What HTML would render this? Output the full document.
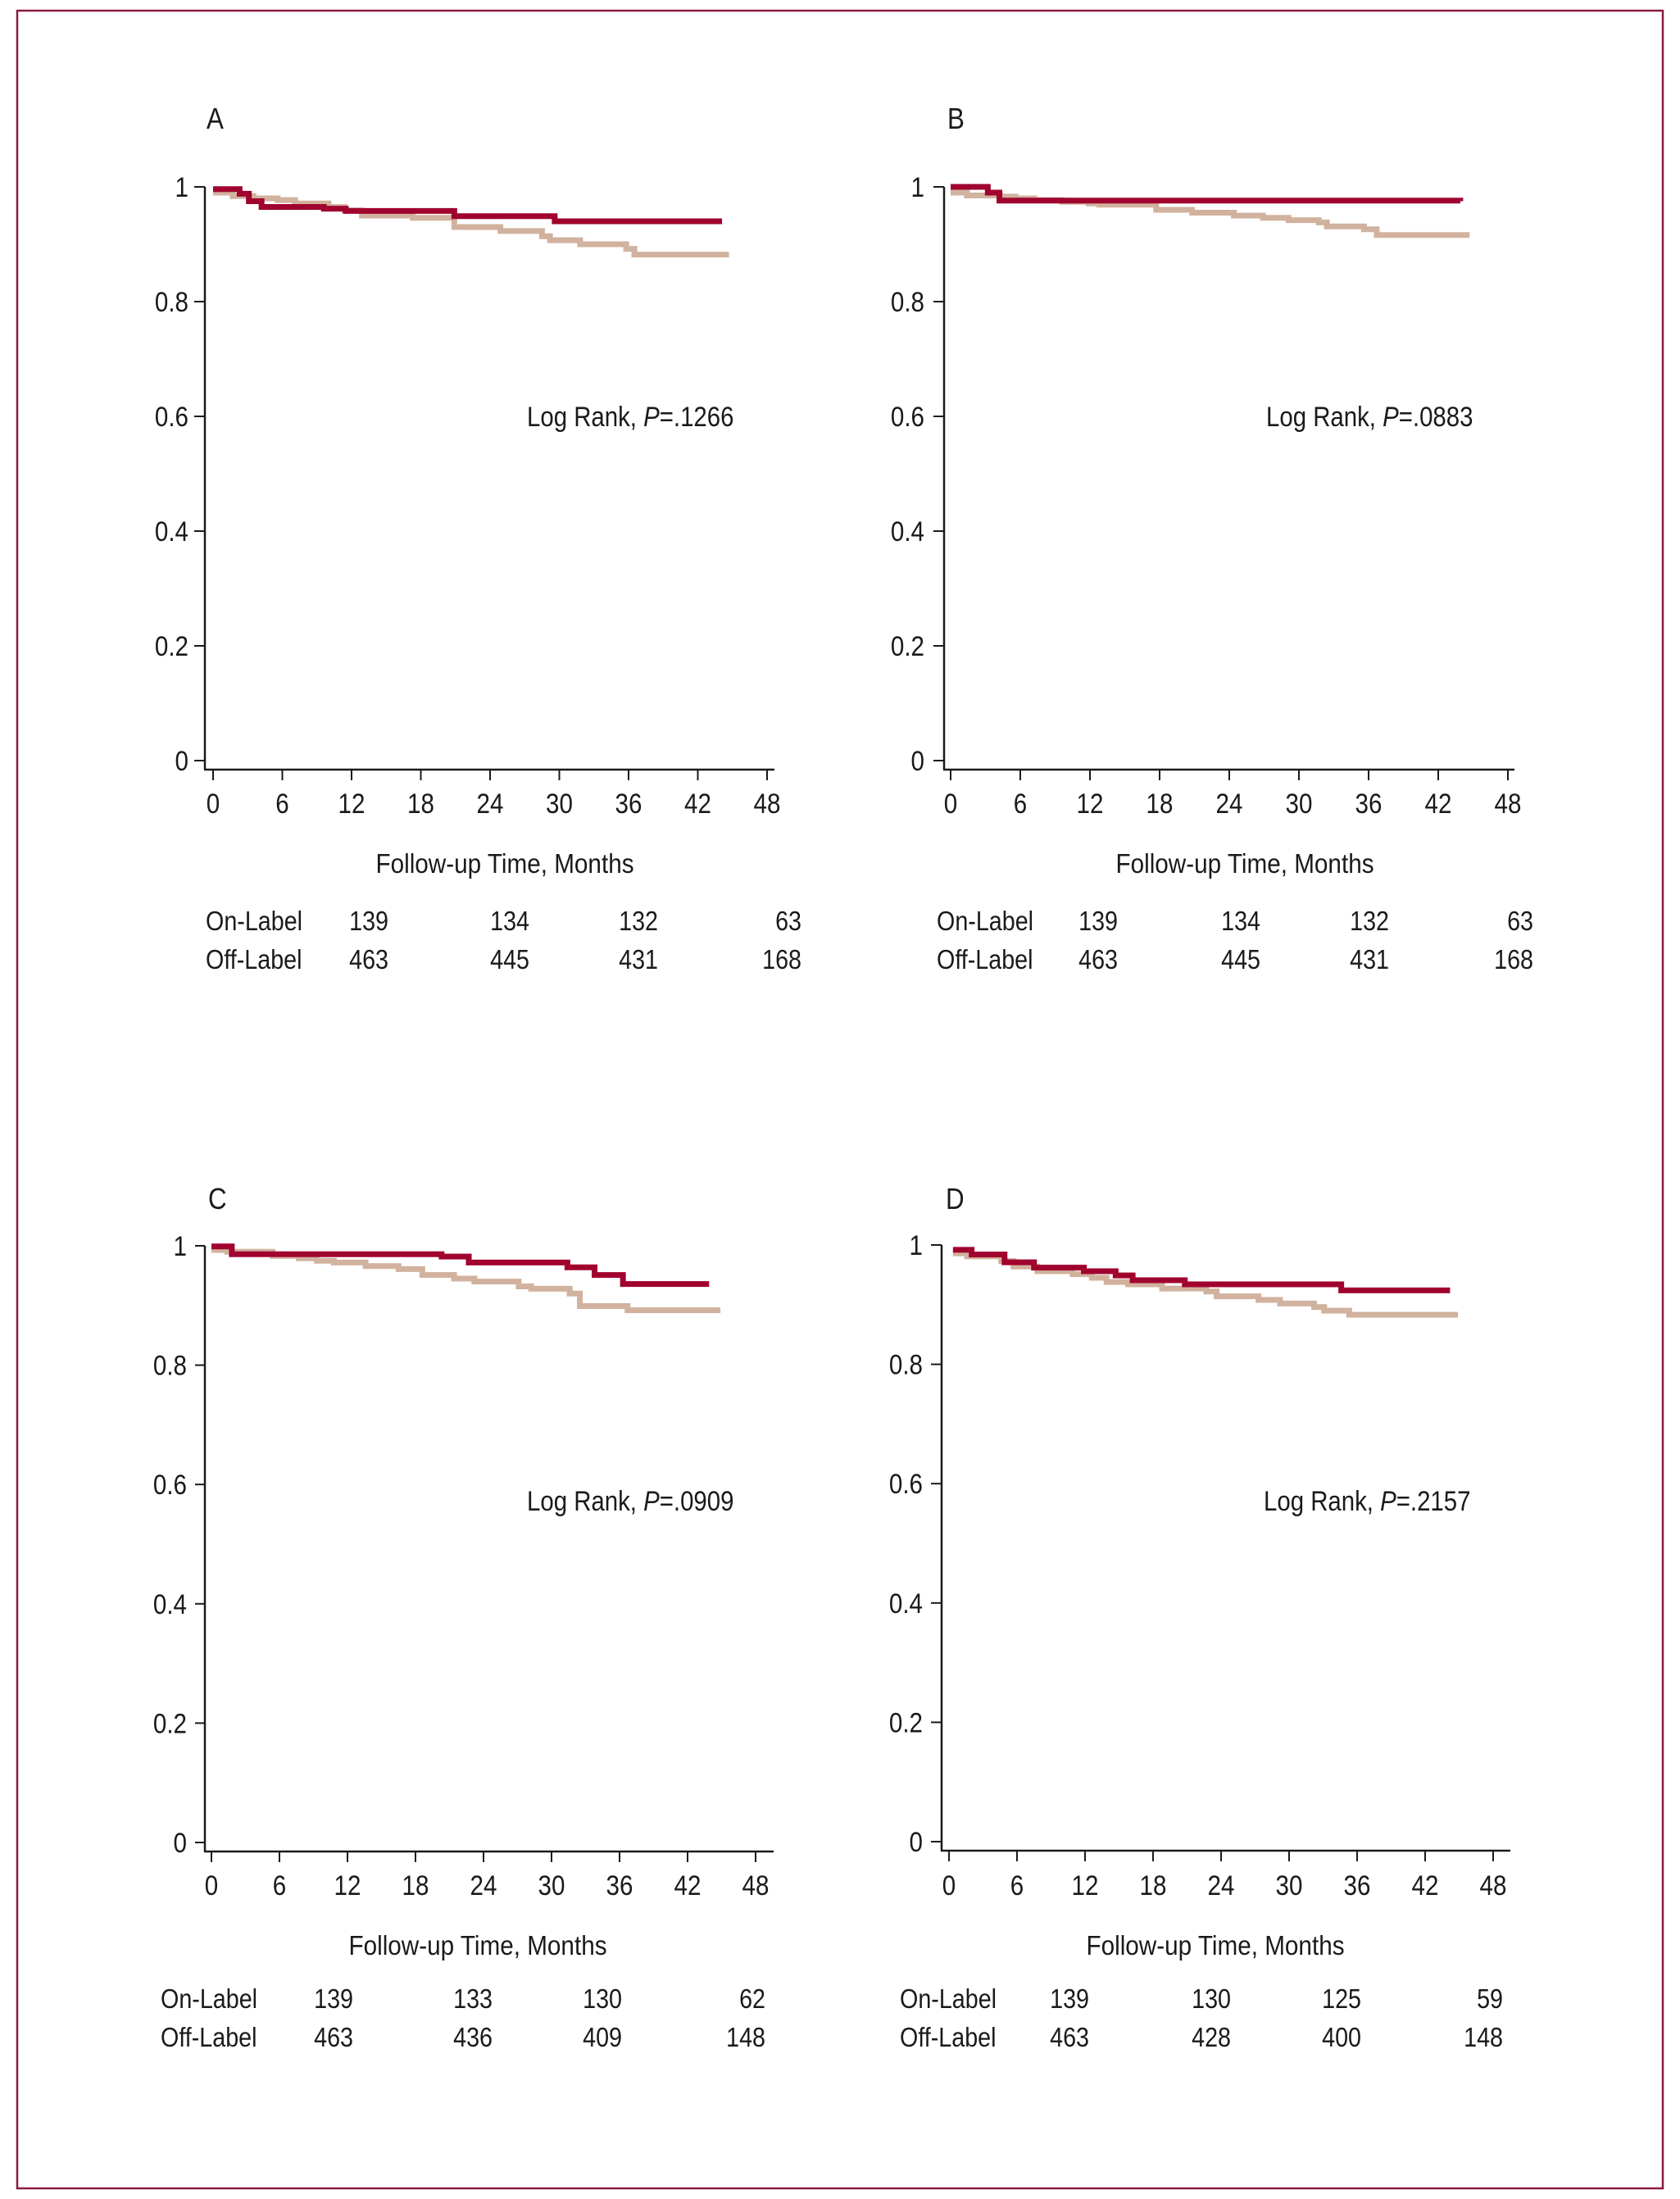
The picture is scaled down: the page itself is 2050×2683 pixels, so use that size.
<!DOCTYPE html>
<html><head><meta charset="utf-8"><style>
html,body{margin:0;padding:0;background:#fff}
svg{display:block}
text{font-family:"Liberation Sans Narrow","Liberation Sans",Arial,sans-serif;fill:#1a1a1a}
</style></head><body>
<svg id="fig" width="2050" height="2683" viewBox="0 0 2050 2683" xmlns="http://www.w3.org/2000/svg">
<rect x="21" y="13" width="2008" height="2657" fill="none" stroke="#8b1a40" stroke-width="2.5"/>
</svg>
<script>
// ---- data (months / survival) ----
const yTicks = [0, 0.2, 0.4, 0.6, 0.8, 1];
const yTickLabels = ["0", "0.2", "0.4", "0.6", "0.8", "1"];
const xTicks = [0, 6, 12, 18, 24, 30, 36, 42, 48];
const riskGroups = ["On-Label", "Off-Label"];

const tA_on  = [0, 2.3, 3.1, 4.2, 9.6, 11.5, 20.9, 29.6, 44.1];
const sA_on  = [0.996, 0.988, 0.975, 0.965, 0.962, 0.958, 0.949, 0.940, 0.940];
const tA_off = [0, 1.7, 3.5, 5.6, 7.1, 10.0, 11.4, 12.9, 17.3, 20.9, 24.9, 28.5, 29.2, 31.8, 35.8, 36.5, 44.7];
const sA_off = [0.990, 0.984, 0.980, 0.977, 0.971, 0.965, 0.959, 0.950, 0.946, 0.930, 0.923, 0.914, 0.907, 0.900, 0.892, 0.882, 0.882];

const tB_on  = [0, 3.2, 4.2, 43.9];
const sB_on  = [1.0, 0.99, 0.976, 0.975];
const tB_off = [0, 1.4, 4.3, 5.6, 7.2, 9.6, 11.9, 12.8, 17.7, 20.8, 24.4, 26.9, 29.1, 31.7, 32.4, 35.6, 36.7, 44.7];
const sB_off = [0.990, 0.985, 0.983, 0.980, 0.977, 0.974, 0.971, 0.969, 0.960, 0.955, 0.950, 0.946, 0.942, 0.938, 0.931, 0.926, 0.916, 0.916];

const tC_on  = [0, 1.8, 20.3, 22.7, 31.4, 33.8, 36.3, 43.9];
const sC_on  = [0.999, 0.986, 0.982, 0.972, 0.964, 0.951, 0.936, 0.936];
const tC_off = [0, 1.4, 5.4, 7.7, 9.3, 10.8, 13.6, 16.5, 18.6, 21.4, 23.2, 27.1, 28.2, 31.6, 32.5, 36.7, 44.9];
const sC_off = [0.993, 0.990, 0.983, 0.979, 0.975, 0.972, 0.966, 0.961, 0.951, 0.945, 0.940, 0.932, 0.928, 0.920, 0.899, 0.892, 0.892];

const tD_on  = [0.35, 2.0, 4.9, 7.5, 11.9, 14.7, 16.2, 20.8, 34.6, 44.2];
const sD_on  = [0.992, 0.984, 0.971, 0.962, 0.956, 0.949, 0.941, 0.934, 0.924, 0.924];
const tD_off = [0.35, 1.6, 4.6, 5.7, 7.8, 10.9, 12.6, 13.9, 15.8, 18.8, 22.7, 23.6, 27.3, 29.2, 32.2, 33.1, 35.3, 44.9];
const sD_off = [0.986, 0.981, 0.973, 0.964, 0.956, 0.951, 0.945, 0.938, 0.934, 0.927, 0.922, 0.914, 0.908, 0.902, 0.896, 0.890, 0.883, 0.883];

const riskA = [[139, 134, 132, 63], [463, 445, 431, 168]];
const riskB = [[139, 134, 132, 63], [463, 445, 431, 168]];
const riskC = [[139, 133, 130, 62], [463, 436, 409, 148]];
const riskD = [[139, 130, 125, 59], [463, 428, 400, 148]];
const pValues = [".1266", ".0883", ".0909", ".2157"];
const panelLetters = ["A", "B", "C", "D"];

// ---- layout ----
const panels = [
 {ax:250,x0:260,x48:936,y1:228,y0:928,xAxisY:939,axisEnd:945,lx:252,ly:157,ylr:230,tickL:237,tly:992,tcx:616,ty:1065,rlx:251,ry:[1135,1182],rr:[474,646,803,978],logX:643,logY:520,on:[tA_on,sA_on],off:[tA_off,sA_off],risk:riskA},
 {ax:1152,x0:1160,x48:1840,y1:228,y0:928,xAxisY:939,axisEnd:1848,lx:1156,ly:157,ylr:1128,tickL:1139,tly:992,tcx:1519,ty:1065,rlx:1143,ry:[1135,1182],rr:[1364,1538,1695,1871],logX:1545,logY:520,on:[tB_on,sB_on],off:[tB_off,sB_off],risk:riskB},
 {ax:250,x0:258,x48:922,y1:1520,y0:2248,xAxisY:2259,axisEnd:944,lx:254,ly:1475,ylr:228,tickL:238,tly:2312,tcx:583,ty:2385,rlx:196,ry:[2450,2497],rr:[431,601,759,934],logX:643,logY:1843,on:[tC_on,sC_on],off:[tC_off,sC_off],risk:riskC},
 {ax:1149,x0:1158,x48:1822,y1:1519,y0:2247,xAxisY:2258,axisEnd:1843,lx:1154,ly:1475,ylr:1126,tickL:1136,tly:2312,tcx:1483,ty:2385,rlx:1098,ry:[2450,2497],rr:[1329,1502,1661,1834],logX:1542,logY:1843,on:[tD_on,sD_on],off:[tD_off,sD_off],risk:riskD}
];
const NS = "http://www.w3.org/2000/svg";
const svg = document.getElementById("fig");
function mk(tag, attrs, parent){ const e=document.createElementNS(NS,tag); for(const k in attrs) e.setAttribute(k,attrs[k]); (parent||svg).appendChild(e); return e; }
function txt(parent, x, y, s, size, anchor, sx){
  const t = mk("text", {transform:`translate(${x},${y}) scale(${sx||0.87},1)`, "font-size":size, "text-anchor":anchor||"start"}, parent);
  t.textContent = s; return t;
}
panels.forEach((p, i) => {
  const g = mk("g", {});
  
  
  const xs = t => p.x0 + (p.x48 - p.x0) * t / 48;
  const ys = s => p.y0 - (p.y0 - p.y1) * s;
  const lab = txt(g, p.lx, p.ly, panelLetters[i], 36);
  
  
  const yax = mk("line", {x1:p.ax, y1:ys(1), x2:p.ax, y2:p.xAxisY, stroke:"#1a1a1a", "stroke-width":2.5}, g);
  
  
  const xax = mk("line", {x1:p.ax-1, y1:p.xAxisY, x2:p.axisEnd, y2:p.xAxisY, stroke:"#1a1a1a", "stroke-width":2.5}, g);
  
  
  yTicks.forEach((v, k) => {
    const tk = mk("line", {x1:p.tickL, y1:ys(v), x2:p.ax, y2:ys(v), stroke:"#1a1a1a", "stroke-width":2}, g);
    
    
    const tl = txt(g, p.ylr, ys(v) + 12, yTickLabels[k], 34, "end");
    
    
  });
  xTicks.forEach(v => {
    const tk = mk("line", {x1:xs(v), y1:p.xAxisY, x2:xs(v), y2:p.xAxisY + 13, stroke:"#1a1a1a", "stroke-width":2}, g);
    
    
    const tl = txt(g, xs(v), p.tly, String(v), 34, "middle");
    
    
  });
  const ttl = txt(g, p.tcx, p.ty, "Follow-up Time, Months", 33, "middle", 0.9);
  
  
  riskGroups.forEach((name, r) => {
    const rl = txt(g, p.rlx, p.ry[r], name, 33);
    
    
    p.risk[r].forEach((n, c) => {
      const rn = txt(g, p.rr[c], p.ry[r], String(n), 33, "end");
      
      
    });
  });
  const lr = mk("text", {transform:`translate(${p.logX},${p.logY}) scale(0.865,1)`, "font-size":34}, g);
  
  
  lr.innerHTML = 'Log Rank, <tspan font-style="italic">P</tspan>=' + pValues[i];
  function stepPath(ts, ss){
    let d = `M${xs(ts[0])},${ys(ss[0])}`;
    for (let k = 1; k < ts.length; k++) d += ` H${xs(ts[k])} V${ys(ss[k])}`;
    return d;
  }
  const off = mk("path", {d:stepPath(p.off[0], p.off[1]), fill:"none", stroke:"#d1b29e", "stroke-width":7}, g);
  
  
  const on = mk("path", {d:stepPath(p.on[0], p.on[1]), fill:"none", stroke:"#a0032e", "stroke-width":7}, g);
  
  
});
</script>
</body></html>
